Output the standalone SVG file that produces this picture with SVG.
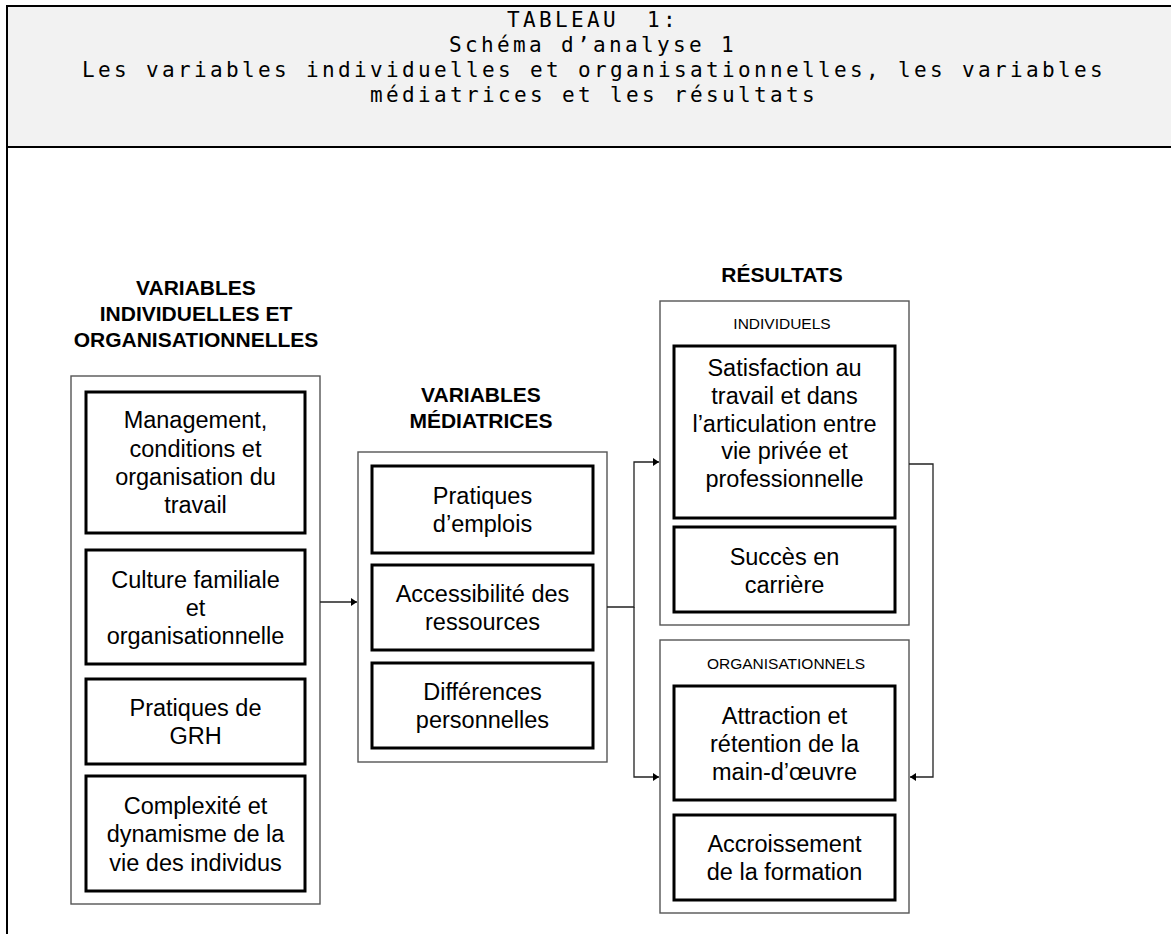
<svg xmlns="http://www.w3.org/2000/svg" width="1171" height="934" viewBox="0 0 1171 934">
<style>
.title{font-family:"DejaVu Sans Mono","Liberation Mono",monospace;font-size:21px;fill:#000;text-anchor:middle;letter-spacing:3.36px}
.hdr{font-family:"Liberation Sans",Arial,sans-serif;font-size:21px;font-weight:bold;fill:#000;text-anchor:middle}
.lbl{font-family:"Liberation Sans",Arial,sans-serif;font-size:15.5px;fill:#000;text-anchor:middle}
.txt{font-family:"Liberation Sans",Arial,sans-serif;font-size:23.5px;fill:#000;text-anchor:middle}
.outer{fill:#fff;stroke:#555;stroke-width:1.4}
.box{fill:#fff;stroke:#000;stroke-width:3}
.conn{fill:none;stroke:#222;stroke-width:1.3}
</style>
<defs>
<marker id="arr" markerUnits="userSpaceOnUse" markerWidth="7" markerHeight="9" refX="6" refY="4" orient="auto">
<path d="M0,0 L6,4 L0,8 z" fill="#000"/>
</marker>
</defs>
<rect width="1171" height="934" fill="#fff"/>
<g id="frame">
<rect x="7" y="6" width="1180" height="141" fill="#f2f2f2" stroke="#000" stroke-width="2"/>
<line x1="7" y1="147" x2="7" y2="934" stroke="#000" stroke-width="2"/>
</g>
<g id="title">
<text class="title" x="593" y="27">TABLEAU <tspan dx="12">1:</tspan></text>
<text class="title" x="593" y="52">Schéma d’analyse 1</text>
<text class="title" x="594" y="77">Les variables individuelles et organisationnelles, les variables</text>
<text class="title" x="594" y="102">médiatrices et les résultats</text>
</g>
<g id="col-left">
<text class="hdr" x="196" y="295">VARIABLES</text>
<text class="hdr" x="196" y="321">INDIVIDUELLES ET</text>
<text class="hdr" x="196" y="347">ORGANISATIONNELLES</text>
<rect class="outer" x="71" y="376" width="249" height="528"/>
</g>
<g id="n-management">
<rect class="box" x="86" y="392" width="219" height="141"/>
<text class="txt" x="195.5" y="428.4">Management,</text>
<text class="txt" x="195.5" y="456.7">conditions et</text>
<text class="txt" x="195.5" y="485">organisation du</text>
<text class="txt" x="195.5" y="513.3">travail</text>
</g>
<g id="n-culture">
<rect class="box" x="86" y="550" width="219" height="114"/>
<text class="txt" x="195.5" y="587.5">Culture familiale</text>
<text class="txt" x="195.5" y="615.8">et</text>
<text class="txt" x="195.5" y="644.1">organisationnelle</text>
</g>
<g id="n-grh">
<rect class="box" x="86" y="679" width="219" height="85"/>
<text class="txt" x="195.5" y="716">Pratiques de</text>
<text class="txt" x="195.5" y="744.3">GRH</text>
</g>
<g id="n-complexite">
<rect class="box" x="86" y="776" width="219" height="115"/>
<text class="txt" x="195.5" y="814">Complexité et</text>
<text class="txt" x="195.5" y="842.3">dynamisme de la</text>
<text class="txt" x="195.5" y="870.6">vie des individus</text>
</g>
<g id="col-mid">
<text class="hdr" x="481" y="402">VARIABLES</text>
<text class="hdr" x="481" y="428">MÉDIATRICES</text>
<rect class="outer" x="358" y="452" width="249" height="310"/>
</g>
<g id="n-emplois">
<rect class="box" x="372" y="466" width="221" height="87"/>
<text class="txt" x="482.5" y="504">Pratiques</text>
<text class="txt" x="482.5" y="532.3">d’emplois</text>
</g>
<g id="n-access">
<rect class="box" x="372" y="565" width="221" height="85"/>
<text class="txt" x="482.5" y="602">Accessibilité des</text>
<text class="txt" x="482.5" y="630.3">ressources</text>
</g>
<g id="n-diff">
<rect class="box" x="372" y="663" width="221" height="85"/>
<text class="txt" x="482.5" y="700">Différences</text>
<text class="txt" x="482.5" y="728.3">personnelles</text>
</g>
<g id="col-right">
<text class="hdr" x="782" y="282">RÉSULTATS</text>
</g>
<g id="g-individuels">
<rect class="outer" x="660" y="301" width="249" height="324"/>
<text class="lbl" x="782" y="329">INDIVIDUELS</text>
</g>
<g id="n-satisfaction">
<rect class="box" x="674" y="346" width="221" height="172"/>
<text class="txt" x="784.5" y="376">Satisfaction au</text>
<text class="txt" x="784.5" y="403.8">travail et dans</text>
<text class="txt" x="784.5" y="431.6">l’articulation entre</text>
<text class="txt" x="784.5" y="459.4">vie privée et</text>
<text class="txt" x="784.5" y="487.2">professionnelle</text>
</g>
<g id="n-succes">
<rect class="box" x="674" y="527" width="221" height="85"/>
<text class="txt" x="784.5" y="565">Succès en</text>
<text class="txt" x="784.5" y="593">carrière</text>
</g>
<g id="g-organisationnels">
<rect class="outer" x="660" y="640" width="249" height="273"/>
<text class="lbl" x="786" y="669">ORGANISATIONNELS</text>
</g>
<g id="n-attraction">
<rect class="box" x="674" y="686" width="221" height="114"/>
<text class="txt" x="784.5" y="723.5">Attraction et</text>
<text class="txt" x="784.5" y="751.8">rétention de la</text>
<text class="txt" x="784.5" y="780.1">main-d’œuvre</text>
</g>
<g id="n-formation">
<rect class="box" x="674" y="815" width="221" height="85"/>
<text class="txt" x="784.5" y="851.8">Accroissement</text>
<text class="txt" x="784.5" y="880.1">de la formation</text>
</g>
<g id="connectors">
<path class="conn" d="M320,602 H357" marker-end="url(#arr)"/>
<path class="conn" d="M607,607 H634 V462 H659" marker-end="url(#arr)"/>
<path class="conn" d="M634,607 V777 H659" marker-end="url(#arr)"/>
<path class="conn" d="M909,464 H933 V777 H910" marker-end="url(#arr)"/>
</g>
</svg>
